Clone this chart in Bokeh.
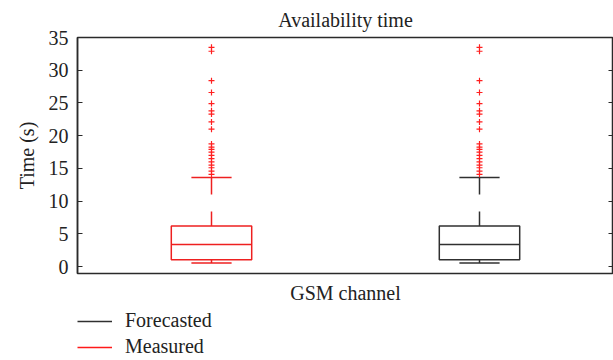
from bokeh.plotting import figure
from bokeh.layouts import column
from bokeh.models import (FixedTicker, LinearAxis, Legend, LegendItem, CustomJSTickFormatter)
from bokeh.embed import file_html
from bokeh.resources import INLINE

# ---- data ----
categories = ["Measured", "Forecasted"]
positions = [1, 2]
box_colors = ["#ee2020", "#303030"]
q1 = [1.06, 1.06]
median = [3.37, 3.37]
q3 = [6.2, 6.2]
lower_whisker = [0.55, 0.55]
upper_whisker = [13.6, 13.6]
outliers = [33.5, 32.9, 28.4, 26.6, 24.9, 23.8, 23.3, 22.1, 21.0,
            18.75, 18.25, 17.9, 17.5, 17.0, 16.5, 16.0, 15.5, 15.1, 14.6, 14.1]
y_ticks = [0, 5, 10, 15, 20, 25, 30, 35]
legend_labels = ["Forecasted", "Measured"]
legend_colors = ["#303030", "#ff1a1a"]

FONT = "Liberation Serif"
FS = "20px"
TXT = "#222222"
AX = "#2a2a2a"
BOX_W = 0.3
CAP_W = 0.15

p = figure(width=613, height=308, x_range=(0.5, 2.5), y_range=(-1.05, 35),
           output_backend="svg", toolbar_location=None,
           title="Availability time")
p.min_border_left = 77
p.min_border_right = 0
p.min_border_top = 34
p.min_border_bottom = 35
p.grid.visible = False
p.outline_line_color = AX
p.outline_line_width = 1.5

p.title.text_font = FONT
p.title.text_font_size = FS
p.title.text_font_style = "normal"
p.title.align = "center"
p.title.text_color = TXT
p.title.standoff = 13

ya = p.yaxis[0]
ya.ticker = FixedTicker(ticks=y_ticks)
ya.major_tick_in = 5
ya.major_tick_out = 0
ya.minor_tick_in = 0
ya.minor_tick_out = 0
ya.major_label_standoff = 9
ya.major_label_text_font = FONT
ya.major_label_text_font_size = FS
ya.major_label_text_color = TXT
ya.axis_label = "Time (s)"
ya.axis_label_text_font = FONT
ya.axis_label_text_font_size = FS
ya.axis_label_text_font_style = "normal"
ya.axis_label_text_color = TXT
ya.axis_label_standoff = 8
ya.axis_line_color = AX
ya.axis_line_width = 1.5
ya.major_tick_line_color = AX

ra = LinearAxis(ticker=FixedTicker(ticks=y_ticks),
                formatter=CustomJSTickFormatter(code="return ''"))
ra.major_tick_in = 5
ra.major_tick_out = 0
ra.minor_tick_in = 0
ra.minor_tick_out = 0
ra.major_label_standoff = 0
ra.axis_line_color = None
ra.major_tick_line_color = AX
p.add_layout(ra, "right")

xa = p.xaxis[0]
xa.ticker = FixedTicker(ticks=[])
xa.major_tick_in = 0
xa.major_tick_out = 0
xa.minor_tick_in = 0
xa.minor_tick_out = 0
xa.major_label_standoff = 0
xa.axis_line_color = None
xa.axis_label = "GSM channel"
xa.axis_label_text_font = FONT
xa.axis_label_text_font_size = FS
xa.axis_label_text_font_style = "normal"
xa.axis_label_text_color = TXT
xa.axis_label_standoff = 8

for x, col, a, m, b, lo, hi in zip(positions, box_colors, q1, median, q3,
                                   lower_whisker, upper_whisker):
    p.quad(left=[x - BOX_W / 2], right=[x + BOX_W / 2], bottom=[a], top=[b],
           fill_color=None, line_color=col, line_width=1.5)
    p.segment(x0=[x - BOX_W / 2], x1=[x + BOX_W / 2], y0=[m], y1=[m],
              line_color=col, line_width=1.5)
    p.segment(x0=[x], x1=[x], y0=[hi], y1=[b], line_color=col, line_width=1.5,
              line_dash="17 17")
    p.segment(x0=[x], x1=[x], y0=[a], y1=[lo], line_color=col, line_width=1.5)
    p.segment(x0=[x - CAP_W / 2, x - CAP_W / 2], x1=[x + CAP_W / 2, x + CAP_W / 2],
              y0=[hi, lo], y1=[hi, lo], line_color=col, line_width=1.5)
    p.scatter(x=[x] * len(outliers), y=outliers, marker="cross", size=6,
              line_color="#ff2020", line_width=1.2)

# ---- legend figure ----
lf = figure(width=613, height=52, output_backend="svg", toolbar_location=None,
            x_range=(0, 1), y_range=(0, 1))
lf.axis.visible = False
lf.grid.visible = False
lf.outline_line_color = None
lf.min_border = 0
items = []
nan = float("nan")
for lab, col in zip(legend_labels, legend_colors):
    r = lf.line(x=[nan], y=[nan], line_color=col, line_width=1.5)
    items.append(LegendItem(label=lab, renderers=[r]))
legend = Legend(items=items, location=(0, 2))
legend.orientation = "vertical"
legend.border_line_color = None
legend.background_fill_alpha = 0
legend.padding = 0
legend.margin = 0
legend.spacing = 3
legend.glyph_width = 35
legend.glyph_height = 20
legend.label_height = 20
legend.label_standoff = 13
legend.label_text_font = FONT
legend.label_text_font_size = FS
legend.label_text_color = TXT
lf.add_layout(legend, "center")

layout = column(p, lf, spacing=0)
open("out.html", "w").write(file_html(layout, INLINE))
